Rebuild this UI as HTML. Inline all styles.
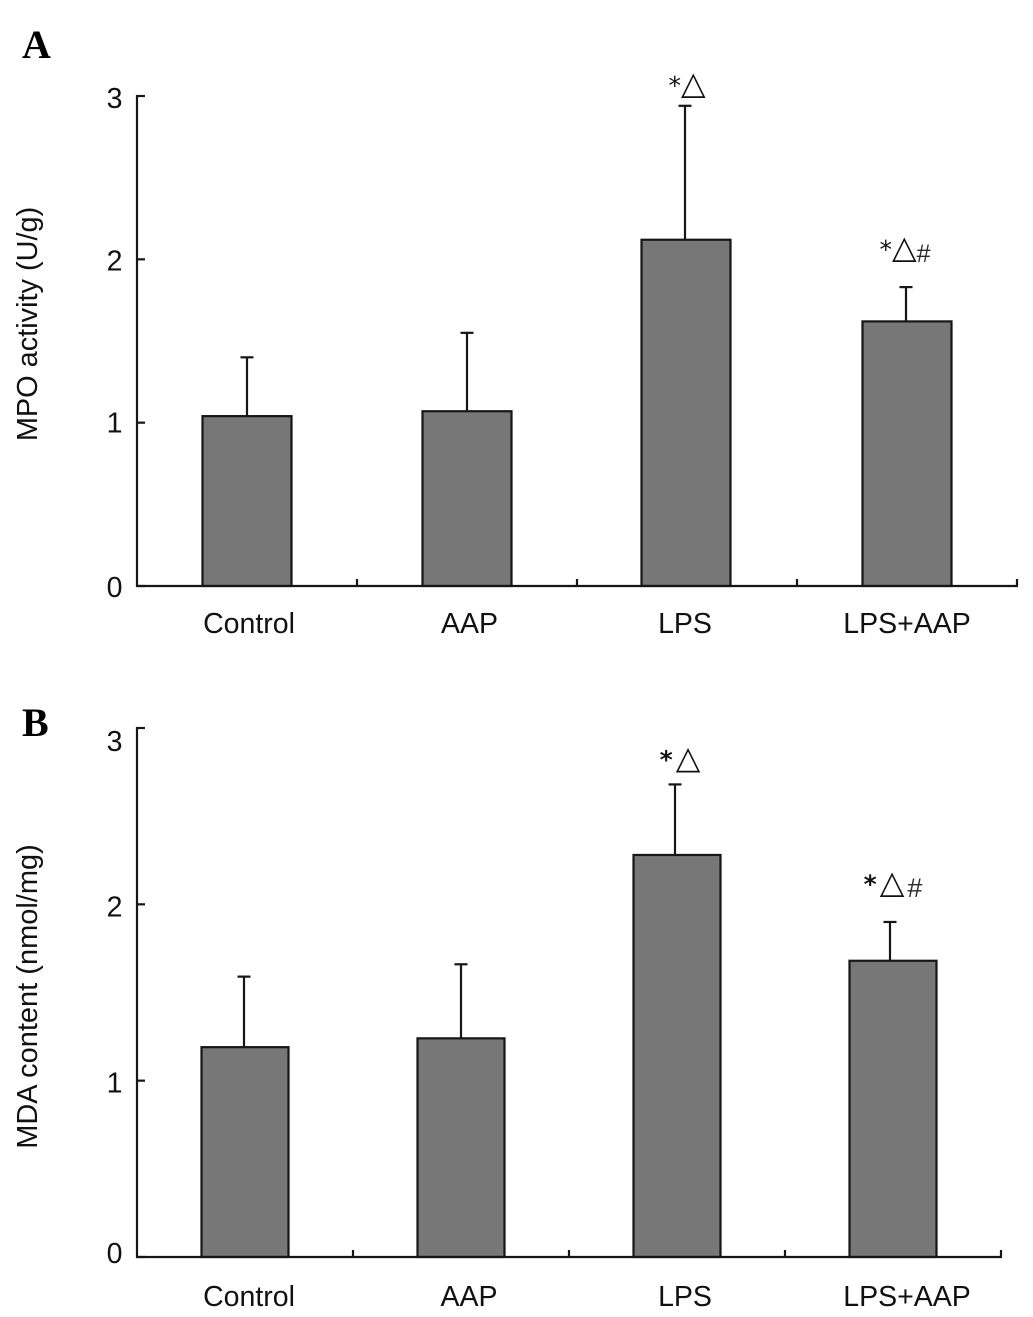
<!DOCTYPE html>
<html lang="en">
<head>
<meta charset="utf-8">
<title>MPO activity and MDA content</title>
<style>
html,body{margin:0;padding:0;background:#fff;width:1033px;height:1317px;overflow:hidden}
svg{display:block}
text{font-family:"Liberation Sans","DejaVu Sans",sans-serif;fill:#111}
.panel-letter{font-family:"Liberation Serif",serif;font-weight:bold;font-size:40px;fill:#000}
.note{font-family:"DejaVu Sans","Liberation Sans",sans-serif}
</style>
</head>
<body>
<svg id="figure" xmlns="http://www.w3.org/2000/svg" width="1033" height="1317" viewBox="0 0 1033 1317">
  <text class="panel-letter" x="22" y="58">A</text>
  <text class="panel-letter" x="22" y="736">B</text>
  <text x="0" y="0" transform="translate(37,324) rotate(-90)" text-anchor="middle" font-size="28.9">MPO activity (U/g)</text>
  <text x="0" y="0" transform="translate(37,996.5) rotate(-90)" text-anchor="middle" font-size="29">MDA content (nmol/mg)</text>
</svg>
<script>
const categories = ['Control', 'AAP', 'LPS', 'LPS+AAP'];
const yTicks = [0, 1, 2, 3];
const mpoMeans = [1.04, 1.07, 2.12, 1.62];
const mpoErrors = [0.36, 0.48, 0.82, 0.21];
const mdaMeans = [1.19, 1.24, 2.28, 1.68];
const mdaErrors = [0.40, 0.42, 0.40, 0.22];
const mpoMarks = ['', '', '*△', '*△#'];
const mdaMarks = ['', '', '*△', '*△#'];

const svg = document.getElementById('figure');
const NS = 'http://www.w3.org/2000/svg';

function make(tag, attrs, text, parent) {
  const el = document.createElementNS(NS, tag);
  for (const k in attrs) el.setAttribute(k, attrs[k]);
  if (text !== undefined) el.textContent = text;
  (parent || svg).appendChild(el);
  return el;
}

function drawPanel(p) {
  const yScale = v => p.y0 + (p.y3 - p.y0) * v / 3;
  const band = (p.xEnd - p.x0) / categories.length;
  const xCenter = i => p.x0 + band * (i + 0.5);
  const stroke = '#161616';
  const sw = 2.2;

  p.means.forEach((m, i) => {
    const c = xCenter(i);
    const ex = c + p.stemDx[i];
    const top = yScale(m + p.errors[i]);
    const bar = make('rect', {x: c + p.barDx[i] - p.barWidth / 2, y: yScale(m), width: p.barWidth, height: p.y0 - yScale(m), fill: '#777777', stroke: stroke, 'stroke-width': sw});
    
    
    const stem = make('line', {x1: ex, x2: ex, y1: yScale(m), y2: top, stroke: stroke, 'stroke-width': sw});
    
    
    const cap = make('line', {x1: ex - 6.5, x2: ex + 6.5, y1: top, y2: top, stroke: stroke, 'stroke-width': sw});
    
    
    if (p.marks[i]) {
      const note = make('text', {class: 'note', x: c + p.noteDx[i], y: top - p.noteGap[i], 'text-anchor': 'middle'});
      
      
      Array.from(p.marks[i]).forEach(ch => {
        if (ch === '*') {
          make('tspan', {'font-size': 25, 'font-weight': p.starWeight}, ch, note);
        } else if (ch === '#') {
          make('tspan', {'font-size': p.hashSize, 'font-family': '"Liberation Sans",sans-serif', dx: p.hashDx, dy: p.hashDy, fill: '#2a2a2a'}, ch, note);
        } else {
          make('tspan', {'font-size': 32, dx: p.triDx}, ch, note);
        }
      });
    }
    const label = make('text', {x: c + p.labelDx[i], y: p.labelY, 'font-size': 28.5, 'text-anchor': 'middle'}, categories[i]);
    
    
  });

  const yAxis = make('line', {x1: p.x0, x2: p.x0, y1: p.y3 - 1, y2: p.y0 + 1, stroke: stroke, 'stroke-width': sw});
  
  
  const xAxis = make('line', {x1: p.x0 - 1, x2: p.xEnd + 1, y1: p.y0, y2: p.y0, stroke: stroke, 'stroke-width': sw});
  
  

  yTicks.forEach((t, i) => {
    const y = yScale(t);
    const tick = make('line', {x1: p.x0, x2: p.x0 + 8, y1: y, y2: y, stroke: stroke, 'stroke-width': sw});
    
    
    const lab = make('text', {x: 122.5, y: y + p.tickDy[i], 'font-size': 28.5, 'text-anchor': 'end'}, String(t));
    
    
  });

  for (let i = 1; i <= categories.length; i++) {
    const x = p.x0 + band * i;
    const tick = make('line', {x1: x, x2: x, y1: p.y0 - 7, y2: p.y0, stroke: stroke, 'stroke-width': sw});
    
    
  }
}

drawPanel({id: 'panel-a', means: mpoMeans, errors: mpoErrors, marks: mpoMarks,
  x0: 137, xEnd: 1017, y0: 586, y3: 96, barWidth: 89, barDx: [0, 0, -1, 0],
  labelY: 633, tickDy: [11, 10, 11, 12], labelDx: [2, 2.5, -2, 0],
  stemDx: [0, 0, -2, -1],
  noteDx: [0, 0, 0, -2], noteGap: [0, 0, 12, 29],
  starWeight: 'normal', triDx: 0, hashDx: 0, hashDy: 4, hashSize: 25});

drawPanel({id: 'panel-b', means: mdaMeans, errors: mdaErrors, marks: mdaMarks,
  x0: 137, xEnd: 1001, y0: 1257, y3: 728, barWidth: 87, barDx: [0, 0, 0, 0],
  labelY: 1306, tickDy: [6, 12, 12, 23], labelDx: [4, 8, 8, 14],
  stemDx: [-1, 0, -2, -3],
  noteDx: [0, 0, 3, 0], noteGap: [0, 0, 16, 29],
  starWeight: 'bold', triDx: 3, hashDx: 3, hashDy: 4, hashSize: 27});
</script>
</body>
</html>
